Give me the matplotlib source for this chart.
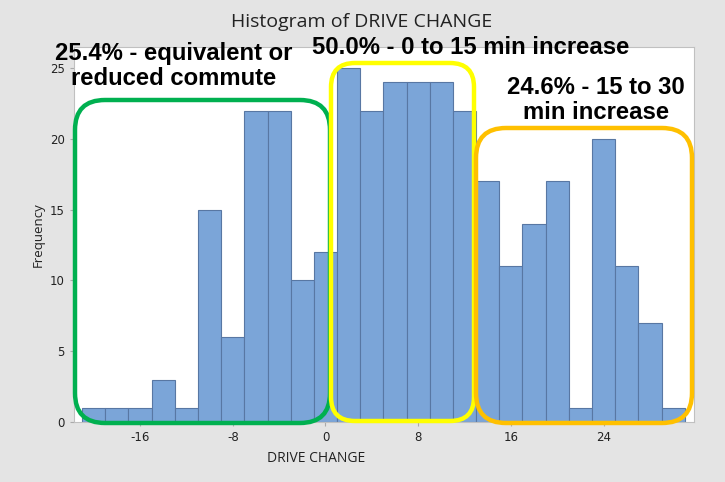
import numpy as np
import matplotlib.pyplot as plt
from matplotlib.patches import FancyBboxPatch

plt.rcParams['axes.unicode_minus'] = False

# Histogram data (bin centers, width 2).
bin_centers = [-20, -18, -16, -14, -12, -10, -8, -6, -4, -2, 0,
               2, 4, 6, 8, 10, 12,
               14, 16, 18, 20, 22, 24, 26, 28, 30]
counts = [1, 1, 1, 3, 1, 15, 6, 22, 22, 10, 12,
          25, 22, 24, 24, 24, 22,
          17, 11, 14, 17, 1, 20, 11, 7, 1]
x_ticks = [-16, -8, 0, 8, 16, 24]
y_ticks = [0, 5, 10, 15, 20, 25]

W, H = 725, 482
fig = plt.figure(figsize=(W / 100, H / 100), dpi=100, facecolor='#e4e4e4')
ax = fig.add_axes([74 / W, 1 - 422 / H, (694 - 74) / W, (422 - 47) / H])
ax.set_facecolor('white')

ax.bar(bin_centers, counts, width=2, color='#7ba5d8', edgecolor='#5877a3', linewidth=0.8)
ax.set_xlim(-21.7, 31.8)
ax.set_ylim(0, 26.5)
ax.set_xticks(x_ticks)
ax.set_yticks(y_ticks)
ax.tick_params(labelsize=8.5, colors='#222222', length=3, color='#aaaaaa')
for s in ax.spines.values():
    s.set_color('#c0c0c0')
    s.set_linewidth(0.8)

fig.text(362 / W, 1 - 22 / H, "Histogram of DRIVE CHANGE", ha='center', va='center',
         fontsize=14, color='#222222', family='Open Sans')
fig.text(38 / W, 1 - 235 / H, "Frequency", ha='center', va='center', rotation=90,
         fontsize=9.5, color='#222222', family='Open Sans')
fig.text(316 / W, 1 - 459 / H, "DRIVE CHANGE", ha='center', va='center',
         fontsize=10, color='#222222', family='Open Sans')

# Rounded boxes, in pixel coordinates (x0, y_top, x1, y_bottom) of the image
boxes = [((75, 100, 330, 423), '#00b050', 30),
         ((331, 63, 474, 421), '#ffff00', 24),
         ((476, 128, 692, 423), '#ffc000', 30)]
for (x0, y0, x1, y1), col, r in boxes:
    p = FancyBboxPatch((x0, H - y1), x1 - x0, y1 - y0,
                       boxstyle=f"round,pad=0,rounding_size={r}",
                       transform=None, fill=False, edgecolor=col, linewidth=3.2,
                       zorder=5)
    fig.patches.append(p)

labels = [("25.4% - equivalent or\nreduced commute", 174, 66),
          ("50.0% - 0 to 15 min increase", 471, 48),
          ("24.6% - 15 to 30\nmin increase", 596, 100)]
for txt, x, y in labels:
    fig.text(x / W, 1 - y / H, txt, ha='center', va='center', fontsize=17.2,
             fontweight='bold', family='Liberation Sans', linespacing=1.15,
             color='black', zorder=6)

fig.savefig("out.png", dpi=100, facecolor=fig.get_facecolor())
